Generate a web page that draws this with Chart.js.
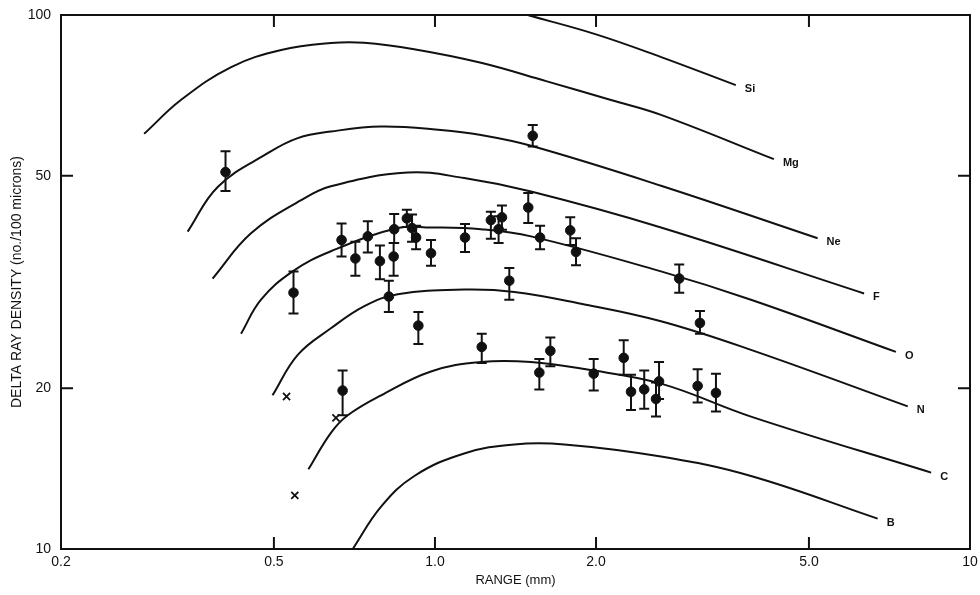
<!DOCTYPE html>
<html lang="en">
<head>
<meta charset="UTF-8">
<title>Delta ray density vs range</title>
<script src="https://cdn.jsdelivr.net/npm/chart.js"></script>
<style>
  body { margin:0; background:#fff; }
  #wrap { width:980px; height:595px; }
</style>
</head>
<body>
<div id="wrap"><canvas id="myChart" width="980" height="595"></canvas></div>

<script>
// axis ticks
const xTickVals = [0.2, 0.5, 1, 2, 5, 10];
const xTickText = ['0.2', '0.5', '1.0', '2.0', '5.0', '10'];
const yTickVals = [10, 20, 50, 100];
const yTickText = ['10', '20', '50', '100'];

// calculated curves : range (mm) / delta ray density
const curveNames = ['Si', 'Mg', 'Ne', 'F', 'O', 'N', 'C', 'B'];
const siX = [1.30, 1.49, 2.0, 2.64, 3.65];
const siY = [104, 100, 92.0, 83.5, 73.9];
const mgX = [0.286, 0.335, 0.416, 0.516, 0.639, 0.737, 0.914, 1.219, 1.613, 2.133, 2.645, 4.30];
const mgY = [59.9, 69.3, 79.9, 86.0, 88.6, 88.7, 86.3, 81.4, 75.2, 69.3, 65.0, 53.7];
const neX = [0.345, 0.393, 0.487, 0.554, 0.639, 0.793, 1.026, 1.219, 1.512, 2.645, 5.19];
const neY = [39.3, 47.7, 55.1, 58.8, 60.5, 61.8, 60.9, 59.6, 56.9, 47.9, 38.2];
const fX = [0.384, 0.453, 0.562, 0.639, 0.889, 1.134, 1.512, 2.645, 6.34];
const fY = [32.1, 39.0, 45.0, 47.8, 50.7, 49.5, 46.7, 40.0, 30.1];
const oX = [0.434, 0.473, 0.542, 0.639, 0.852, 0.983, 1.219, 1.512, 2.645, 3.896, 7.27];
const oY = [25.3, 29.3, 33.1, 36.1, 39.9, 40.0, 39.7, 38.5, 33.1, 29.3, 23.4];
const nX = [0.497, 0.554, 0.639, 0.738, 0.852, 1.134, 1.407, 1.875, 2.645, 3.896, 7.65];
const nY = [19.4, 23.1, 25.9, 28.5, 30.0, 30.6, 30.3, 28.8, 26.7, 23.6, 18.5];
const cX = [0.580, 0.639, 0.687, 0.793, 0.983, 1.219, 1.512, 1.915, 2.645, 3.896, 8.46];
const cY = [14.1, 16.5, 17.8, 19.4, 21.5, 22.4, 22.4, 21.7, 20.4, 17.7, 13.9];
const bX = [0.702, 0.793, 0.915, 1.134, 1.407, 1.745, 2.645, 3.896, 6.72];
const bY = [10.0, 12.0, 13.7, 15.1, 15.7, 15.7, 14.9, 13.7, 11.4];

// measured tracks with error bars
const measX = [0.406, 0.544, 0.669, 0.672, 0.710, 0.749, 0.789, 0.820, 0.837, 0.839,
               0.886, 0.906, 0.922, 0.931, 0.983, 1.138, 1.223, 1.272, 1.315, 1.334,
               1.377, 1.494, 1.523, 1.567, 1.572, 1.643, 1.790, 1.835, 1.980, 2.253,
               2.325, 2.461, 2.589, 2.623, 2.861, 3.097, 3.128, 3.351];
const measY = [50.8, 30.2, 37.9, 19.8, 35.0, 38.5, 34.6, 29.7, 35.3, 39.7,
               41.6, 39.9, 38.3, 26.2, 35.8, 38.3, 23.9, 41.3, 39.7, 41.8,
               31.8, 43.6, 59.4, 21.4, 38.3, 23.5, 39.5, 36.0, 21.3, 22.8,
               19.7, 19.9, 19.1, 20.6, 32.1, 20.2, 26.5, 19.6];
const measHi = [55.6, 33.1, 40.7, 21.6, 37.6, 41.1, 37.0, 31.8, 37.4, 42.4,
                43.2, 42.3, 40.3, 27.8, 37.9, 40.6, 25.3, 42.8, 42.0, 44.0,
                33.6, 46.4, 62.2, 22.7, 40.3, 24.9, 41.8, 38.2, 22.7, 24.6,
                21.2, 21.6, 20.5, 22.4, 34.1, 21.7, 27.9, 21.3];
const measLo = [46.8, 27.6, 35.3, 17.8, 32.5, 35.9, 32.0, 27.8, 32.5, 37.4,
                40.1, 37.6, 36.4, 24.2, 33.9, 36.0, 22.3, 38.1, 37.4, 39.6,
                29.3, 40.8, 56.7, 19.9, 36.4, 22.0, 37.1, 34.0, 19.8, 21.2,
                18.2, 18.3, 17.7, 19.1, 30.2, 18.8, 25.3, 18.1];

// crosses
const crossX = [0.528, 0.653, 0.547];
const crossY = [19.3, 17.6, 12.6];
</script>

<script>
const ink = '#111';
Chart.defaults.font.family = "'Liberation Sans', Arial, sans-serif";
Chart.defaults.color = ink;

const toPts = (xs, ys) => xs.map((x, i) => ({x: x, y: ys[i]}));
const curves = [[siX, siY], [mgX, mgY], [neX, neY], [fX, fY], [oX, oY], [nX, nY], [cX, cY], [bX, bY]];

const datasets = curves.map((c, i) => ({
    type: 'line',
    label: curveNames[i],
    data: toPts(c[0], c[1]),
    borderColor: ink,
    borderWidth: 2,
    pointRadius: 0,
    tension: 0.4,
    fill: false
}));
datasets.push({
    type: 'scatter',
    label: 'measured',
    data: toPts(measX, measY),
    pointRadius: 4.8,
    pointBackgroundColor: ink,
    pointBorderColor: ink
});
datasets.push({
    type: 'scatter',
    label: 'cross',
    data: toPts(crossX, crossY),
    pointStyle: 'crossRot',
    pointRadius: 5,
    pointBorderColor: ink,
    pointBorderWidth: 1.8
});

// frame, inward ticks, error bars and curve names
const extras = {
    id: 'extras',
    afterDatasetsDraw(chart) {
        const ctx = chart.ctx;
        const a = chart.chartArea;
        const sx = chart.scales.x, sy = chart.scales.y;
        ctx.save();
        ctx.strokeStyle = ink;
        ctx.lineWidth = 2;
        ctx.strokeRect(a.left, a.top, a.right - a.left, a.bottom - a.top);

        ctx.beginPath();
        [0.5, 1, 2, 5].forEach(v => {
            const px = sx.getPixelForValue(v);
            ctx.moveTo(px, a.bottom); ctx.lineTo(px, a.bottom - 12);
            ctx.moveTo(px, a.top); ctx.lineTo(px, a.top + 12);
        });
        [20, 50].forEach(v => {
            const py = sy.getPixelForValue(v);
            ctx.moveTo(a.left, py); ctx.lineTo(a.left + 12, py);
            ctx.moveTo(a.right, py); ctx.lineTo(a.right - 12, py);
        });
        ctx.stroke();

        // error bars
        ctx.beginPath();
        measX.forEach((x, i) => {
            const px = sx.getPixelForValue(x);
            const hi = sy.getPixelForValue(measHi[i]);
            const lo = sy.getPixelForValue(measLo[i]);
            ctx.moveTo(px, hi); ctx.lineTo(px, lo);
            ctx.moveTo(px - 5, hi); ctx.lineTo(px + 5, hi);
            ctx.moveTo(px - 5, lo); ctx.lineTo(px + 5, lo);
        });
        ctx.stroke();

        // curve names at the right end
        ctx.fillStyle = ink;
        ctx.font = "bold 11px 'Liberation Sans', Arial, sans-serif";
        ctx.textAlign = 'left';
        ctx.textBaseline = 'middle';
        curves.forEach((c, i) => {
            const n = c[0].length - 1;
            const px = sx.getPixelForValue(c[0][n]);
            const py = sy.getPixelForValue(c[1][n]);
            ctx.fillText(curveNames[i], px + 9, py + 4);
        });
        ctx.restore();
    }
};

new Chart(document.getElementById('myChart'), {
    type: 'scatter',
    data: { datasets: datasets },
    plugins: [extras],
    options: {
        responsive: false,
        animation: false,
        layout: { padding: { top: 15, right: 10, left: 0, bottom: 0 } },
        plugins: { legend: { display: false }, tooltip: { enabled: false } },
        scales: {
            x: {
                type: 'logarithmic',
                min: 0.2, max: 10,
                afterFit: s => { s.height = 46; s.paddingLeft = 0; s.paddingRight = 0; },
                afterBuildTicks: s => { s.ticks = xTickVals.map(v => ({value: v})); },
                grid: { display: false, drawTicks: false },
                border: { display: false },
                ticks: {
                    autoSkip: false, maxRotation: 0, padding: 5,
                    font: { size: 14 },
                    callback: (v, i) => xTickText[i]
                },
                title: { display: true, text: 'RANGE (mm)', font: { size: 13 }, padding: { top: 0, bottom: 7 } }
            },
            y: {
                type: 'logarithmic',
                min: 10, max: 100,
                afterFit: s => { s.width = 61; s.paddingTop = 0; s.paddingBottom = 0; },
                afterBuildTicks: s => { s.ticks = yTickVals.map(v => ({value: v})); },
                grid: { display: false, drawTicks: false },
                border: { display: false },
                ticks: {
                    autoSkip: false, padding: 10,
                    font: { size: 14 },
                    callback: (v, i) => yTickText[i]
                },
                title: { display: true, text: 'DELTA RAY DENSITY (no./100 microns)', font: { size: 14 }, padding: { top: 9, bottom: 0 } }
            }
        }
    }
});
</script>
</body>
</html>
